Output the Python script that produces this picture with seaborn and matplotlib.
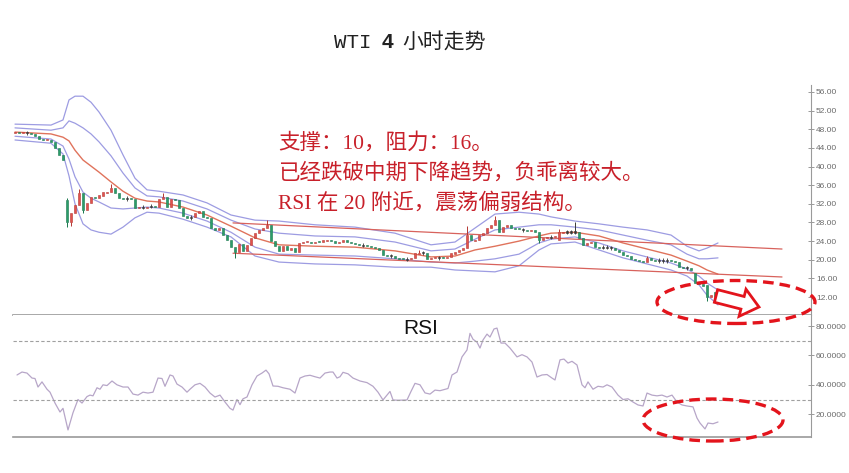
import numpy as np
import pandas as pd
import seaborn as sns
import matplotlib.pyplot as plt
from matplotlib.patches import Ellipse, FancyArrow
from matplotlib.offsetbox import TextArea, HPacker, AnnotationBbox

# WTI 4h candles, bollinger bands, channel and RSI

W, H = 849, 473

opens = [
    47.2, 47.4, 47.1, 47.3, 47.2, 47.0, 46.5, 45.9, 45.6, 45.8,
    45.3, 44.0, 42.5, 32.8, 28.1, 30.0, 31.7, 34.3, 30.7, 32.2,
    33.5, 33.2, 33.6, 34.4, 34.6, 35.4, 34.3, 33.3, 33.1, 33.2,
    33.0, 31.1, 31.3, 31.2, 31.4, 31.5, 31.3, 33.0, 33.4, 31.3,
    33.0, 32.8, 31.1, 29.4, 29.0, 29.1, 30.0, 30.5, 29.2, 29.0,
    26.8, 26.4, 26.8, 25.3, 24.2, 22.7, 21.7, 23.4, 21.9, 23.2,
    24.7, 25.7, 26.4, 26.8, 27.5, 24.0, 23.0, 21.8, 22.9, 22.1,
    22.5, 21.7, 23.6, 23.7, 23.9, 23.6, 23.9, 23.7, 24.1, 24.3,
    24.0, 23.6, 23.8, 24.2, 23.8, 23.6, 23.4, 23.2, 23.1, 22.9,
    22.7, 22.5, 22.1, 21.1, 20.9, 20.8, 20.4, 20.3, 20.1, 20.2,
    20.4, 21.3, 21.5, 21.4, 20.2, 20.3, 20.5, 20.5, 20.3, 20.6,
    21.3, 21.6, 22.1, 22.5, 25.3, 24.1, 24.3, 25.3, 25.7, 26.8,
    27.5, 28.5, 26.0, 27.0, 27.5, 26.8, 26.7, 26.5, 26.4, 26.2,
    26.4, 25.9, 24.2, 24.6, 24.8, 24.9, 24.3, 25.8, 26.0, 25.9,
    26.0, 25.9, 24.7, 23.2, 23.5, 23.7, 22.8, 22.6, 22.7, 22.6,
    22.5, 22.1, 21.7, 21.0, 20.8, 20.2, 19.9, 19.8, 19.6, 20.4,
    20.0, 19.8, 19.9, 19.8, 19.9, 19.7, 19.5, 18.5, 18.3, 18.2,
    17.2, 15.1, 14.9, 14.6, 12.0, 13.1,
]
closes = [
    47.4, 47.2, 47.3, 47.2, 47.0, 46.5, 45.9, 45.7, 45.8, 45.3,
    44.0, 42.5, 41.5, 28.1, 30.0, 31.7, 34.3, 30.7, 32.2, 33.5,
    33.2, 33.9, 34.5, 34.6, 35.4, 34.3, 33.2, 33.1, 33.2, 33.0,
    31.1, 31.3, 31.2, 31.4, 31.5, 31.3, 33.0, 33.4, 31.3, 33.0,
    32.8, 31.1, 29.4, 29.0, 29.1, 30.0, 30.5, 29.2, 29.0, 26.8,
    26.4, 26.8, 25.3, 24.2, 22.7, 21.7, 23.4, 21.9, 23.2, 24.7,
    25.7, 26.4, 26.8, 27.5, 24.0, 23.0, 21.8, 22.9, 22.1, 22.5,
    21.7, 23.6, 23.8, 23.9, 23.6, 23.8, 23.7, 24.2, 24.3, 24.0,
    23.6, 23.8, 24.2, 23.8, 23.6, 23.4, 23.2, 23.1, 22.9, 22.7,
    22.5, 22.1, 21.0, 20.9, 20.8, 20.4, 20.2, 20.1, 20.2, 20.4,
    21.4, 21.5, 21.4, 20.2, 20.4, 20.5, 20.4, 20.3, 20.6, 21.4,
    21.6, 22.1, 22.5, 25.3, 24.2, 24.3, 25.3, 25.7, 26.8, 27.5,
    28.5, 26.0, 27.0, 27.5, 26.8, 26.6, 26.5, 26.4, 26.2, 26.4,
    25.9, 24.2, 24.7, 24.8, 24.9, 25.1, 25.9, 26.0, 25.9, 26.0,
    25.9, 24.7, 23.2, 23.6, 23.7, 22.7, 22.6, 22.7, 22.6, 22.5,
    22.1, 21.7, 21.0, 20.8, 20.2, 19.9, 19.7, 19.6, 20.4, 19.9,
    19.8, 19.9, 19.8, 19.9, 19.7, 19.5, 18.4, 18.3, 18.2, 17.8,
    15.0, 14.9, 14.4, 12.0, 12.4, 12.0,
]
# visible long shadows only
wick_high = {13: 33.3, 16: 35.2, 24: 36.2, 37: 34.3, 63: 28.6, 101: 22.0,
             113: 27.2, 120: 29.3, 136: 26.5, 140: 28.1, 158: 20.9}
wick_low = {13: 27.0, 14: 27.2, 17: 30.0, 55: 20.4, 131: 23.5, 173: 11.2}

band_x = [0, 9, 12, 13.5, 15, 17, 19, 21, 24, 27, 30, 33, 36, 42, 48, 54, 60, 66, 75,
          85, 95, 104, 110, 115, 120, 126, 131, 134, 140, 146, 152, 158, 164, 168,
          171, 173, 175.75]
band_mid = [47.4, 47.0, 46.3, 45.5, 43.5, 41.4, 40.1, 38.8, 36.7, 34.7,
            33.2, 32.6, 32.4, 31.3, 29.6, 27.2, 24.7, 23.2, 22.9, 22.7,
            21.9, 20.6, 20.8, 22.1, 22.9, 24.0, 25.1, 25.7, 25.9, 25.1,
            23.6, 22.3, 21.0, 19.7, 18.7, 17.8, 16.9]
band_up2 = [49.1, 48.9, 50.0, 54.3, 55.1, 55.1, 53.8, 51.7, 47.8, 42.5,
            37.5, 35.0, 34.7, 33.9, 32.2, 29.6, 28.5, 28.3, 27.5, 27.0,
            25.7, 23.2, 23.8, 26.8, 29.8, 30.2, 29.8, 29.2, 28.3, 27.7,
            27.0, 26.4, 25.3, 22.9, 21.9, 22.5, 23.6]
band_up1 = [48.3, 47.8, 48.3, 49.8, 49.3, 48.3, 47.0, 45.3, 42.3, 38.6,
            35.4, 33.7, 33.5, 32.6, 30.9, 28.5, 26.6, 25.7, 25.1, 24.9,
            23.8, 21.9, 22.3, 24.4, 26.4, 27.0, 27.5, 27.5, 27.0, 26.4,
            25.3, 24.2, 23.2, 21.2, 20.2, 20.2, 20.4]
band_lo1 = [46.5, 45.9, 44.4, 41.6, 37.8, 34.5, 33.2, 32.4, 31.1, 30.9,
            31.1, 31.3, 31.1, 30.0, 28.3, 25.9, 22.7, 21.2, 21.0, 20.8,
            20.2, 19.5, 19.3, 19.7, 20.2, 21.2, 23.6, 24.4, 24.9, 23.6,
            21.9, 20.6, 19.3, 18.0, 16.5, 15.0, 13.5]
band_lo2 = [45.7, 45.0, 42.7, 38.0, 32.0, 27.7, 26.4, 25.9, 25.5, 27.0,
            29.0, 30.2, 30.0, 28.7, 27.0, 24.9, 20.8, 19.5, 19.1, 18.9,
            18.4, 18.4, 17.8, 17.6, 17.4, 18.7, 22.1, 23.4, 23.8, 22.1,
            20.4, 19.1, 17.8, 16.5, 14.6, 12.4, 10.3]

trend_x = [54.5, 191.75]
trend_upper = [27.9, 22.3]
trend_lower = [21.4, 16.3]

rsi_x = [
    0.5, 1.75, 3, 4.25, 5, 5.75, 6.75, 8, 8.75, 10,
    11.25, 12, 13.25, 14.5, 15.75, 16.75, 18, 18.75, 19.5, 20.5,
    21.25, 22, 23, 24.25, 25.5, 27, 28.25, 29.5, 30.75, 32,
    33.25, 34.5, 35.75, 36.75, 37.5, 38.75, 39.5, 40.5, 41.75, 43,
    43.75, 45, 46.25, 47.5, 48.75, 50, 51.25, 52.5, 53.75, 54.5,
    55.5, 56.25, 57, 58, 59.25, 60.5, 61.75, 62.75, 63.5, 64.5,
    65.75, 67, 68.75, 70, 71.25, 72.5, 73.75, 75, 76.25, 77.5,
    78.75, 79.5, 80.5, 81.25, 82, 83.25, 84.5, 86.25, 88, 89.5,
    90.75, 92, 93, 93.75, 94.5, 95.75, 98, 99, 100, 101.25,
    102.5, 103.75, 105, 106.25, 107.5, 108.25, 109.25, 110.5, 111.75, 113,
    113.75, 114.5, 115.5, 116.25, 117, 118, 118.75, 119.75, 120.5, 121.5,
    122.5, 123.75, 125.5, 126.75, 128, 129.25, 130.5, 131.75, 133, 134.25,
    135, 136.25, 137.25, 138.25, 139.25, 140.5, 141.75, 142.5, 143.25, 144.5,
    145.75, 147, 148, 149.25, 150.75, 152, 153.25, 154.5, 155.75, 157,
    158, 159.25, 160.5, 161.75, 163, 164.25, 165.5, 166.75, 168, 169.5,
    170.5, 171.25, 172.5, 173.25, 174.5, 175.75,
]
rsi_vals = [
    46.7, 48.7, 48.0, 44.6, 44.3, 38.5, 42.0, 37.0, 35.0, 27.6,
    21.5, 24.0, 9.3, 21.0, 30.0, 27.6, 32.0, 33.0, 32.5, 38.0,
    37.0, 40.0, 39.5, 42.6, 40.0, 38.5, 38.5, 33.7, 33.0, 35.0,
    34.4, 35.0, 44.6, 44.3, 39.0, 46.7, 46.0, 40.5, 38.5, 35.0,
    37.0, 40.0, 41.0, 38.5, 34.4, 31.7, 33.0, 28.3, 24.0, 22.8,
    30.0, 26.5, 30.5, 31.7, 40.0, 46.0, 48.0, 50.0, 47.5, 39.2,
    39.0, 38.0, 37.0, 34.4, 44.6, 46.0, 46.5, 45.5, 44.6, 48.0,
    48.7, 48.7, 44.6, 45.5, 48.5, 47.5, 44.6, 42.6, 41.5, 39.0,
    35.0, 29.7, 33.0, 35.5, 29.7, 29.5, 29.7, 35.5, 41.0, 40.0,
    34.5, 33.7, 36.4, 36.0, 36.9, 37.5, 46.7, 48.7, 59.0, 63.7,
    75.0, 71.0, 69.0, 65.0, 70.5, 74.5, 72.5, 78.0, 78.6, 68.4,
    68.4, 65.0, 59.0, 60.5, 59.0, 55.5, 45.3, 46.7, 47.0, 44.6,
    43.3, 57.0, 57.5, 54.8, 56.0, 53.5, 40.0, 38.0, 42.0, 37.0,
    39.0, 38.5, 40.0, 38.5, 33.0, 30.0, 30.5, 28.3, 26.3, 25.6,
    34.4, 33.0, 32.5, 33.0, 31.7, 33.0, 28.3, 26.3, 25.6, 25.0,
    17.4, 14.0, 10.0, 14.0, 13.5, 14.7,
]
rsi_levels = [30, 70]

price_ticks = [12, 16, 20, 24, 28, 32, 36, 40, 44, 48, 52, 56]
rsi_ticks = [20, 40, 60, 80]

title_parts = ["WTI", "4", "小时走势"]
notes = ["支撑：10，阻力：16。",
         "已经跌破中期下降趋势，负乖离较大。",
         "RSI 在 20 附近，震荡偏弱结构。"]

RED = "#e2514c"
GREEN = "#2a9d6a"
PURPLE = "#9d9ce2"
MARK = "#e3141c"
AXIS = "#9a9a9a"

sns.set_theme(style="white")
plt.rcParams["font.family"] = ["Liberation Sans", "DejaVu Sans"]

fig = plt.figure(figsize=(W / 100, H / 100), dpi=100, facecolor="white")
ax = fig.add_axes([13 / W, 1 - 315 / H, 798 / W, 230 / H])
ax_rsi = fig.add_axes([13 / W, 1 - 437 / H, 798 / W, 122 / H])

# candles
candles = pd.DataFrame({"open": opens, "close": closes})
candles["bar"] = np.arange(len(candles))
candles["size"] = (candles["close"] - candles["open"]).abs()
candles["lo"] = candles[["open", "close"]].min(axis=1)
candles["hi"] = candles[["open", "close"]].max(axis=1)
rising = candles["close"] > candles["open"]
doji = candles["size"] <= 0.15
fill = np.where(doji, "#3a3a3a", np.where(rising, RED, GREEN))
edge = np.where(doji, "#3a3a3a", np.where(rising, "#b43632", "#17764b"))
heights = candles["size"].clip(lower=0.22)
bottoms = np.where(doji, (candles["lo"] + candles["hi"]) / 2 - 0.11, candles["lo"])

d = candles[doji]
ax.vlines(d["bar"], d["lo"] - 0.4, d["hi"] + 0.4, color="#3a3a3a", lw=0.6, zorder=3)
for i, v in wick_high.items():
    ax.vlines(i, candles.loc[i, "hi"], v, color=edge[i], lw=0.7, zorder=3)
for i, v in wick_low.items():
    ax.vlines(i, v, candles.loc[i, "lo"], color=edge[i], lw=0.7, zorder=3)
ax.bar(candles["bar"], heights, bottom=bottoms, width=0.62, color=fill,
       edgecolor=edge, linewidth=0.4, zorder=4)

# bands and channel
for band in [band_up2, band_up1, band_lo1, band_lo2]:
    sns.lineplot(x=band_x, y=band, ax=ax, color=PURPLE, lw=0.9, zorder=2)
sns.lineplot(x=band_x, y=band_mid, ax=ax, color="#e0735c", lw=1.0, zorder=2)
sns.lineplot(x=trend_x, y=trend_upper, ax=ax, color="#d8625c", lw=0.9, zorder=2)
sns.lineplot(x=trend_x, y=trend_lower, ax=ax, color="#d8625c", lw=0.9, zorder=2)

# rsi
sns.lineplot(x=rsi_x, y=rsi_vals, ax=ax_rsi, color="#b7a6c8", lw=0.9)
for lvl in rsi_levels:
    ax_rsi.axhline(lvl, color="#a0a0a0", lw=0.8, ls=(0, (3, 2)))

ax.set_xlim(-0.5, 199)
ax.set_ylim(8.14, 57.5)
ax_rsi.set_xlim(-0.5, 199)
ax_rsi.set_ylim(4.5, 87.5)

for a, ticks, fmt in [(ax, price_ticks, "{:.2f}"), (ax_rsi, rsi_ticks, "{:.4f}")]:
    a.set_facecolor("white")
    a.set_xticks([])
    a.yaxis.tick_right()
    a.set_yticks(ticks)
    a.set_yticklabels([fmt.format(t) for t in ticks])
    a.tick_params(axis="y", direction="inout", length=4, width=0.6, colors="#8a8a8a",
                  labelsize=6, labelcolor="#6a6a6a", pad=1.5)
    a.grid(False)
    a.spines["left"].set_visible(False)
    a.spines["top"].set_visible(False)
    a.spines["right"].set_color(AXIS)
    a.spines["right"].set_linewidth(0.8)
    a.spines["bottom"].set_color(AXIS)
    a.spines["bottom"].set_linewidth(1.2)
    a.set_xlabel("")
    a.set_ylabel("")

# title: mono "WTI", bold "4", CJK rest
parts = [
    TextArea(title_parts[0], textprops=dict(fontsize=15, color="#222222",
                                            family=["Liberation Mono"])),
    TextArea(title_parts[1], textprops=dict(fontsize=15, color="#222222",
                                            weight="bold", family=["Liberation Sans"])),
    TextArea(title_parts[2], textprops=dict(fontsize=15, color="#222222",
                                            family=["Noto Sans CJK SC"])),
]
title_box = HPacker(children=parts, align="baseline", pad=0, sep=7)
fig.add_artist(AnnotationBbox(title_box, (410 / W, 1 - 42 / H), xycoords="figure fraction",
                              frameon=False, box_alignment=(0.5, 0.5)))

for k, line in enumerate(notes):
    fig.text(278 / W, 1 - (143 + 30 * k) / H, line, ha="left", va="center",
             fontsize=15.5, color="#c8202a",
             family=["Liberation Serif", "Noto Sans CJK SC"])
fig.text(421 / W, 1 - 328 / H, "RSI", ha="center", va="center", fontsize=15,
         color="#111111", family=["Liberation Sans"])

# red marks
for cx, cy, ew, eh in [(736, 302, 158, 43), (713, 420, 140, 42)]:
    fig.add_artist(Ellipse((cx / W, 1 - cy / H), ew / W, eh / H,
                           transform=fig.transFigure, fill=False, ec=MARK,
                           lw=2.4, ls=(0, (3.2, 1.8)), zorder=10))
fig.add_artist(FancyArrow(7.16, (H - 296) / 100, 0.43, -0.11, width=0.13,
                          head_width=0.28, head_length=0.17,
                          length_includes_head=True, fc="white", ec=MARK,
                          lw=2.0, transform=fig.dpi_scale_trans, zorder=11))

fig.savefig("out.png", dpi=100, facecolor="white")
